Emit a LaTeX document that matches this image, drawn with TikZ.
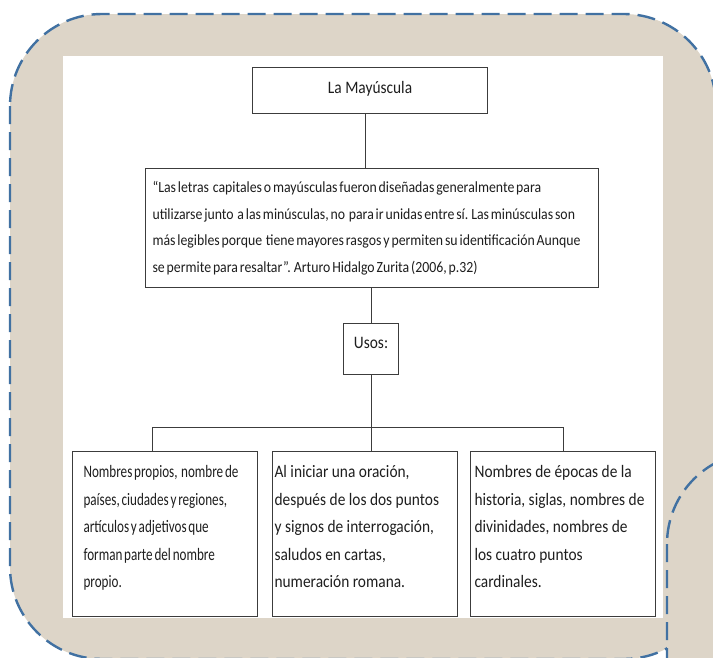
\documentclass[tikz,border=0pt]{standalone}
\usepackage{fontspec}
\setmainfont{Carlito}
\newfontfamily\boxfont[FakeStretch=0.88]{Carlito}
\newfontfamily\usofont[FakeStretch=0.75,WordSpace=0.6]{Carlito}
\newfontfamily\citafont[FakeStretch=0.89,WordSpace=0.6]{Carlito}
\usetikzlibrary{positioning,calc}
\definecolor{paper}{HTML}{DDD5C8}
\definecolor{rim}{HTML}{4171A2}
\definecolor{ink}{HTML}{1E1E1E}
\definecolor{edge}{HTML}{3C3C3C}

\begin{document}
\begin{tikzpicture}[x=1pt,y=-1pt,
  box/.style={draw=edge,line width=1.1pt,fill=white,inner ysep=0pt,anchor=north west,text=ink,font=\boxfont\fontsize{17.5}{27.5}\selectfont},
  wire/.style={draw=edge,line width=0.9pt},
  frame/.style={draw=rim,fill=paper,line width=2.4pt,dash pattern=on 18pt off 8pt,rounded corners=92pt}]
\useasboundingbox (0,0) rectangle (713,657);
\begin{scope}
  \clip (0,0) rectangle (713,657);
  \draw[frame] (10,14) rectangle (716,659);
  \draw[frame] (667,452) rectangle (830,780);
\end{scope}
\fill[white] (63,56) rectangle (663,618);

\node[box,inner xsep=0pt] (titulo) at (252,67) {\parbox[t][46pt][t]{235pt}{\centering\rule{0pt}{26pt}La Mayúscula}};
\node[box,inner xsep=7pt,font=\citafont\fontsize{15.5}{26.5}\selectfont] (cita) at (145,168) {\parbox[t][119pt][t]{439pt}{\rule{0pt}{24pt}“Las letras\ \ capitales o mayúsculas fueron diseñadas generalmente para\\
utilizarse junto\ \ a las minúsculas, no\ \ para ir unidas entre sí. Las minúsculas son\\
más legibles porque\ \ tiene mayores rasgos y permiten su identificación Aunque\\
se permite para resaltar”. Arturo Hidalgo Zurita (2006, p.32)}};
\node[box,inner xsep=0pt] (usos) at (343,323) {\parbox[t][51pt][t]{55pt}{\centering\rule{0pt}{25pt}Usos:}};

\foreach \n/\x/\pad/\fnt/\txt in {1/72/11pt/\usofont/{Nombres propios,\ \ nombre de\\países, ciudades y regiones,\\artículos y adjetivos que\\forman parte del nombre\\propio.},
  2/272/2pt/\boxfont/{Al iniciar una oración,\\después de los dos puntos\\y signos de interrogación,\\saludos en cartas,\\numeración romana.},
  3/470/4pt/\boxfont/{Nombres de épocas de la\\historia, siglas, nombres de\\divinidades, nombres de\\los cuatro puntos\\cardinales.}}{
  \node[box,inner xsep=\pad,font=\fnt\fontsize{17.5}{27.5}\selectfont] (uso\n) at (\x,451) {\parbox[t][165pt][t]{\dimexpr185pt-\pad-\pad\relax}{\raggedright\rule{0pt}{26pt}\txt}};
}

\draw[wire] ([xshift=-4.5pt]titulo.south) -- ([xshift=-4.5pt]titulo.south |- cita.north);
\draw[wire] (usos.north |- cita.south) -- (usos.north);
\draw[wire] (usos.south) -- (usos.south |- uso2.north);
\coordinate (bus) at ($(usos.south)+(0,52)$);
\draw[wire] ([xshift=-12.5pt]uso1.north) |- (bus) -| (uso3.north);
\end{tikzpicture}
\end{document}
